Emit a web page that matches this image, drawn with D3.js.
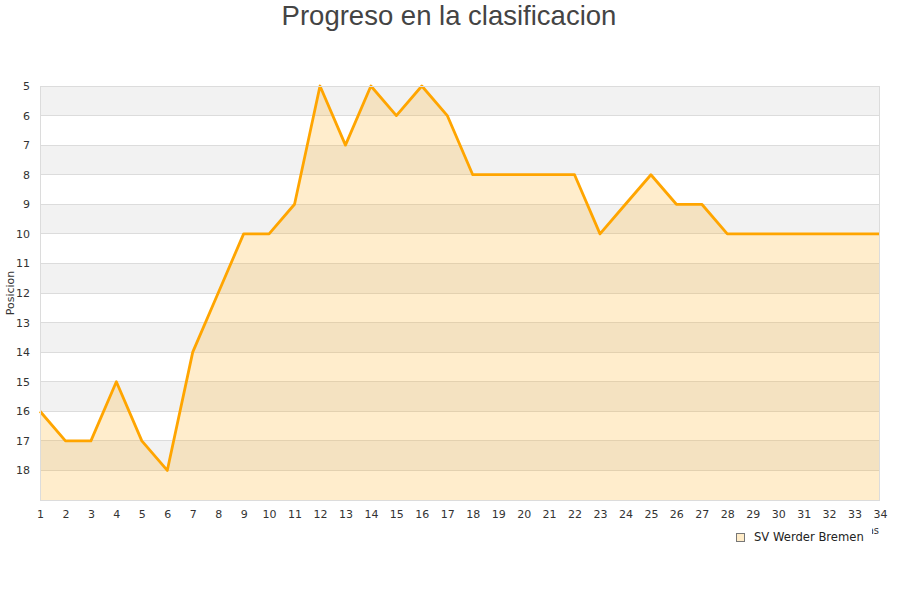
<!DOCTYPE html>
<html><head><meta charset="utf-8">
<script src="https://cdn.jsdelivr.net/npm/d3@7"></script>
<style>body{margin:0;background:#fff;}svg{display:block;}</style>
</head><body>
<svg id="c" width="900" height="600"></svg>
<script>
const title = "Progreso en la clasificacion";
const yTitle = "Posicion";
const xTitle = "Jornadas";
const seriesName = "SV Werder Bremen";
const jornadas = d3.range(1, 35);
const posiciones = [16,17,17,15,17,18,14,12,10,10,9,5,7,5,6,5,6,8,8,8,8,8,10,9,8,9,9,10,10,10,10,10,10,10];
const yTicks = d3.range(5, 19);

const svg = d3.select("#c");
const m = {l:40, r:880, t:86, b:500};
const x = d3.scaleLinear().domain([1,34]).range([m.l, m.r]);
const y = d3.scaleLinear().domain([5,19]).range([m.t, m.b]);

svg.append("text").attr("x",449).attr("y",25).attr("text-anchor","middle")
  .attr("font-family","'Liberation Sans',Arial,sans-serif").attr("font-size",27.5).attr("fill","#444").text(title);

// bands
const bands = d3.range(5, 19);
svg.append("g").selectAll("rect").data(bands).join("rect")
  .attr("x", m.l).attr("width", m.r-m.l)
  .attr("y", d=>y(d)).attr("height", d=>y(d+1)-y(d))
  .attr("fill", d=> (d%2===1) ? "#f2f2f2" : "#ffffff");
// grid
svg.append("g").selectAll("line").data(yTicks.slice(1)).join("line")
  .attr("x1", m.l).attr("x2", m.r).attr("y1", d=>y(d)).attr("y2", d=>y(d))
  .attr("stroke","#dcdcdc").attr("stroke-width",1).attr("shape-rendering","crispEdges");

const data = jornadas.map((j,i)=>({j, p:posiciones[i]}));
svg.append("path").datum(data)
  .attr("d", d3.area().x(d=>x(d.j)).y0(m.b).y1(d=>y(d.p)))
  .attr("fill","rgba(255,165,0,0.2)");
svg.append("path").datum(data)
  .attr("d", d3.line().x(d=>x(d.j)).y(d=>y(d.p)))
  .attr("fill","none").attr("stroke","#ffa500").attr("stroke-width",2.8).attr("stroke-linejoin","round");

// border
svg.append("rect").attr("x",m.l+0.5).attr("y",m.t+0.5).attr("width",m.r-m.l-1).attr("height",m.b-m.t)
  .attr("fill","none").attr("stroke","#dcdcdc").attr("shape-rendering","crispEdges");

const font = "'DejaVu Sans',Verdana,sans-serif";
// y axis
const ya = svg.append("g").attr("transform",`translate(${m.l},0)`)
  .call(d3.axisLeft(y).tickValues(yTicks).tickSize(0).tickPadding(10).tickFormat(d3.format("d")));
ya.select(".domain").remove();
ya.selectAll("text").attr("font-family",font).attr("font-size",11).attr("fill","#333");
// x axis
const xa = svg.append("g").attr("transform",`translate(0,${m.b})`)
  .call(d3.axisBottom(x).tickValues(jornadas).tickSize(0).tickPadding(10).tickFormat(d3.format("d")));
xa.select(".domain").remove();
xa.selectAll("text").attr("font-family",font).attr("font-size",11).attr("fill","#333");

svg.append("text").attr("transform","translate(14,293) rotate(-90)").attr("text-anchor","middle")
  .attr("font-family",font).attr("font-size",11).attr("fill","#333").text(yTitle);

svg.append("text").attr("x",879).attr("y",534).attr("text-anchor","end")
  .attr("font-family",font).attr("font-size",10).attr("fill","#333").text(xTitle);

// legend
const lg = svg.append("g");
lg.append("rect").attr("x",728).attr("y",521).attr("width",144).attr("height",30).attr("fill","#fff");
lg.append("rect").attr("x",736.5).attr("y",533.5).attr("width",8).attr("height",8)
  .attr("fill","#ffecc8").attr("stroke","#777").attr("stroke-width",1);
lg.append("text").attr("x",754).attr("y",541).attr("font-family",font).attr("font-size",11.6).attr("fill","#222").text(seriesName);
</script>
</body></html>
